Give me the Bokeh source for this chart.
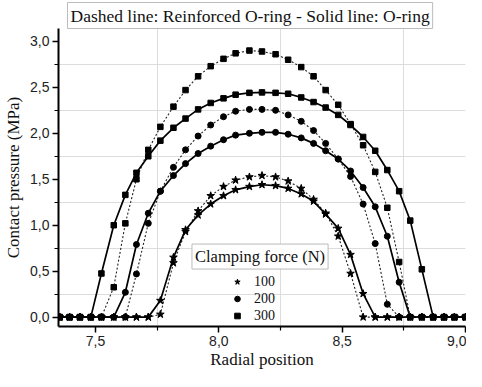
from bokeh.plotting import figure
from bokeh.models import Range1d, FixedTicker, Label, Legend, LegendItem, CustomJSTickFormatter
from bokeh.embed import file_html
from bokeh.resources import INLINE

# ---- data ----
radial_position = [7.355, 7.395, 7.437, 7.481, 7.524, 7.574, 7.621, 7.666, 7.714, 7.763,
                   7.816, 7.865, 7.916, 7.967, 8.019, 8.068, 8.124, 8.175, 8.230, 8.281,
                   8.334, 8.384, 8.433, 8.484, 8.534, 8.585, 8.634, 8.683, 8.731, 8.776,
                   8.823, 8.869, 8.913, 8.955, 9.000]

# Solid line: O-ring
oring_100 = [0, 0, 0, 0, 0, 0, 0, 0, 0, 0.18,
             0.65, 0.95, 1.11, 1.23, 1.32, 1.385, 1.42, 1.44, 1.43, 1.40,
             1.34, 1.26, 1.12, 0.965, 0.68, 0.255, 0, 0, 0, 0,
             0, 0, 0, 0, 0]
oring_200 = [0, 0, 0, 0, 0, 0, 0.27, 0.79, 1.13, 1.37,
             1.54, 1.67, 1.78, 1.86, 1.93, 1.98, 2.00, 2.01, 2.01, 1.99,
             1.95, 1.89, 1.81, 1.72, 1.59, 1.41, 1.20, 0.88, 0.38, 0,
             0, 0, 0, 0, 0]
oring_300 = [0, 0, 0, 0, 0.475, 1.00, 1.33, 1.57, 1.75, 1.92,
             2.06, 2.16, 2.26, 2.33, 2.38, 2.42, 2.44, 2.445, 2.44, 2.43,
             2.39, 2.34, 2.28, 2.20, 2.09, 1.96, 1.81, 1.60, 1.37, 1.05,
             0.52, 0, 0, 0, 0]

# Dashed line: Reinforced O-ring
reinf_100 = [0, 0, 0, 0, 0, 0, 0, 0, 0, 0.03,
             0.59, 0.93, 1.155, 1.32, 1.42, 1.49, 1.525, 1.54, 1.525, 1.48,
             1.40, 1.28, 1.13, 0.88, 0.475, 0, 0, 0, 0, 0,
             0, 0, 0, 0, 0]
reinf_200 = [0, 0, 0, 0, 0, 0, 0, 0.47, 1.02, 1.37,
             1.63, 1.82, 1.97, 2.09, 2.18, 2.24, 2.26, 2.26, 2.25, 2.20,
             2.13, 2.03, 1.89, 1.72, 1.53, 1.23, 0.80, 0.14, 0, 0,
             0, 0, 0, 0, 0]
reinf_300 = [0, 0, 0, 0, 0, 0.325, 1.02, 1.50, 1.82, 2.07,
             2.29, 2.47, 2.62, 2.73, 2.81, 2.87, 2.90, 2.89, 2.86, 2.80,
             2.72, 2.62, 2.47, 2.31, 2.10, 1.87, 1.58, 1.19, 0.60, 0,
             0, 0, 0, 0, 0]

forces = ["100", "200", "300"]
markers = ["star", "circle", "square"]

x_major_ticks = [7.5, 8.0, 8.5, 9.0]
x_minor_ticks = [7.75, 8.25, 8.75]
y_major_ticks = [0.0, 0.5, 1.0, 1.5, 2.0, 2.5, 3.0]
y_minor_ticks = [0.25, 0.75, 1.25, 1.75, 2.25, 2.75]

title_text = "Dashed line: Reinforced O-ring - Solid line: O-ring"
legend_title = "Clamping force (N)"

# ---- figure ----
p = figure(width=466, height=371,
           x_range=Range1d(7.35, 9.0), y_range=Range1d(-0.102, 3.14),
           output_backend="svg", toolbar_location=None,
           min_border_left=58, min_border_right=1, min_border_top=25, min_border_bottom=45,
           background_fill_color="white", border_fill_color="white")
p.outline_line_color = None

p.title.text = title_text
p.title.align = "left"
p.title.offset = 9
p.title.standoff = 0
p.title.text_font = "Liberation Serif"
p.title.text_font_size = "17.5px"
p.title.text_font_style = "normal"
p.title.text_color = "#111111"
p.title.padding = 3
p.title.border_line_color = "#bbbbbb"
p.title.border_line_width = 1
p.title.background_fill_color = "white"

comma_fmt = CustomJSTickFormatter(code="return tick.toFixed(1).replace('.', ',');")

p.xaxis.ticker = FixedTicker(ticks=x_major_ticks, minor_ticks=x_minor_ticks)
p.yaxis.ticker = FixedTicker(ticks=y_major_ticks, minor_ticks=y_minor_ticks)
for ax in (p.xaxis, p.yaxis):
    ax.formatter = comma_fmt
    ax.axis_line_width = 2
    ax.axis_line_color = "black"
    ax.major_tick_line_width = 1.5
    ax.major_tick_line_color = "black"
    ax.minor_tick_line_color = "black"
    ax.minor_tick_line_width = 1.2
    ax.major_tick_in = 0
    ax.major_tick_out = 6
    ax.minor_tick_in = 0
    ax.minor_tick_out = 4
    ax.major_label_text_font = "Liberation Sans"
    ax.major_label_text_font_size = "14px"
    ax.major_label_text_color = "#222222"
    ax.major_label_standoff = 3
    ax.axis_label_text_font = "Liberation Serif"
    ax.axis_label_text_font_size = "17px"
    ax.axis_label_text_font_style = "normal"
    ax.axis_label_text_color = "#111111"
    ax.axis_label_standoff = 1

p.xaxis.axis_label = "Radial position"
p.yaxis.axis_label = "Contact pressure (MPa)"
p.yaxis.axis_label_standoff = 4

for g in (p.xgrid, p.ygrid):
    g.grid_line_color = None
    g.minor_grid_line_color = "#dcdcdc"
    g.minor_grid_line_width = 1

solid_series = [oring_100, oring_200, oring_300]
dashed_series = [reinf_100, reinf_200, reinf_300]
sizes = [8, 6, 5.5]

legend_items = []
for force, mk, sz, ys_s, ys_d in zip(forces, markers, sizes, solid_series, dashed_series):
    p.line(radial_position, ys_d, line_color="#222222", line_width=1.1, line_dash="2 2")
    p.scatter(radial_position, ys_d, marker=mk, size=sz, fill_color="black", line_color="black")
    p.line(radial_position, ys_s, line_color="black", line_width=1.7)
    r = p.scatter(radial_position, ys_s, marker=mk, size=sz, fill_color="black", line_color="black")
    legend_items.append(LegendItem(label=force, renderers=[r]))

legend = Legend(items=legend_items, location=(172, 2), padding=0, margin=0,
                glyph_width=14, glyph_height=17, label_height=17, spacing=0,
                label_standoff=10, border_line_color=None, background_fill_alpha=0,
                label_text_font="Liberation Serif", label_text_font_size="14px",
                label_text_color="#111111")
p.add_layout(legend)

p.add_layout(Label(x=8.167, y=0.659, text=legend_title, text_align="center",
                   text_baseline="middle", text_font="Liberation Serif",
                   text_font_size="16.5px", text_color="#111111",
                   padding=3, border_line_color="#bbbbbb", border_line_width=1,
                   background_fill_color="white"))

open("out.html", "w").write(file_html(p, INLINE))
